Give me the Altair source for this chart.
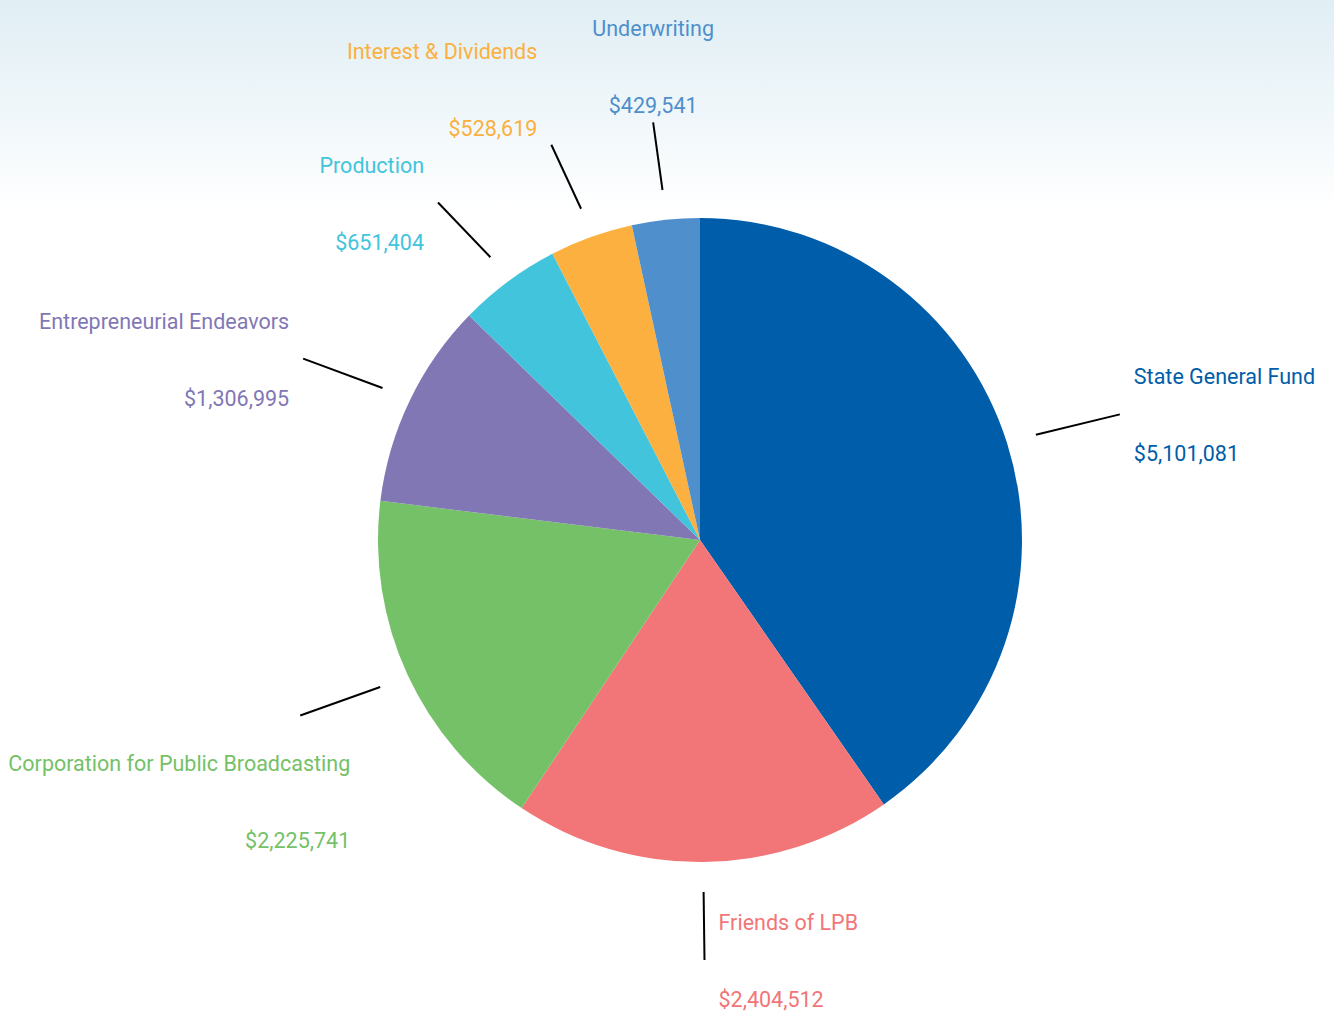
import altair as alt
import pandas as pd

categories = ["State General Fund", "Friends of LPB", "Corporation for Public Broadcasting",
              "Entrepreneurial Endeavors", "Production", "Interest & Dividends", "Underwriting"]
values = [5101081, 2404512, 2225741, 1306995, 651404, 528619, 429541]
colors = ["#005DAA", "#F27577", "#74C167", "#8277B5", "#42C4DC", "#FBB040", "#4E8FCC"]

W, H = 1334, 1036
CX, CY = 700, 540
R = 322
R1 = 352
RX2, RY2 = 440, 420
FONT = "Roboto"
FS = 21.5

df = pd.DataFrame({"category": categories, "value": values, "order": list(range(len(values)))})
color_scale = alt.Scale(domain=categories, range=colors)

base = alt.Chart(df).transform_joinaggregate(
    total="sum(value)"
).transform_window(
    cum="sum(value)", sort=[alt.SortField("order")], frame=[None, 0]
).transform_calculate(
    mid="2*PI*(datum.cum - datum.value/2)/datum.total",
).transform_calculate(
    s="sin(datum.mid)", c="cos(datum.mid)"
).transform_calculate(
    x1=f"{CX} + {R1}*datum.s", y1=f"{CY} - {R1}*datum.c",
    ex=f"{CX} + {RX2}*datum.s", ey=f"{CY} - {RY2}*datum.c",
    mode="datum.c > 0.9 ? 'top' : (datum.c < -0.3 ? (abs(datum.s) > 0.15 ? 'bottomside' : 'bottom') : 'side')",
    vlabel="'$' + format(datum.value, ',')",
).transform_calculate(
    al="datum.mode == 'top' && abs(datum.s) < 0.15 ? 'center' : (datum.mode == 'bottom' ? 'left' : (datum.s >= 0 ? 'left' : 'right'))",
).transform_calculate(
    tx="datum.al == 'center' ? datum.ex : (datum.mode == 'bottomside' ? (datum.al == 'right' ? datum.ex + 50 : datum.ex - 50) : (datum.al == 'left' ? datum.ex + 14 : datum.ex - 14))",
    ny="datum.mode == 'top' ? datum.ey - 92 : (datum.mode == 'bottomside' ? datum.ey + 50 : datum.ey - 36)",
).transform_calculate(
    vy="datum.ny + 77"
)

pie = alt.Chart(df).mark_arc(radius=R).encode(
    theta=alt.Theta("value:Q", stack=True),
    order=alt.Order("order:Q"),
    color=alt.Color("category:N", scale=color_scale, legend=None),
    x=alt.value(CX), y=alt.value(CY),
)

leaders = base.mark_rule(color="black", strokeWidth=2).encode(
    x=alt.X("x1:Q", scale=None), y=alt.Y("y1:Q", scale=None),
    x2="ex:Q", y2="ey:Q",
)

layers = []
for al in ["left", "right", "center"]:
    for fld, yf in [("category", "ny"), ("vlabel", "vy")]:
        layers.append(
            base.transform_filter(f"datum.al == '{al}'").mark_text(
                align=al, baseline="middle", font=FONT, fontSize=FS
            ).encode(
                x=alt.X("tx:Q", scale=None), y=alt.Y(f"{yf}:Q", scale=None),
                text=f"{fld}:N",
                color=alt.Color("category:N", scale=color_scale, legend=None),
            )
        )

bg = alt.Chart(pd.DataFrame({"a": [0]})).mark_rect(
    color=alt.Gradient(gradient="linear", x1=0, x2=0, y1=0, y2=1,
                       stops=[alt.GradientStop(color="#e0eef4", offset=0),
                              alt.GradientStop(color="#f0f7fa", offset=0.55),
                              alt.GradientStop(color="#ffffff", offset=1)])
).encode(x=alt.value(0), x2=alt.value(W), y=alt.value(0), y2=alt.value(210))

chart = alt.layer(bg, pie, leaders, *layers).properties(
    width=W, height=H, padding=0, autosize=alt.AutoSizeParams(type="none")
).configure_view(stroke=None)

chart.save("out.html", embed_options={"renderer": "svg", "actions": False})
